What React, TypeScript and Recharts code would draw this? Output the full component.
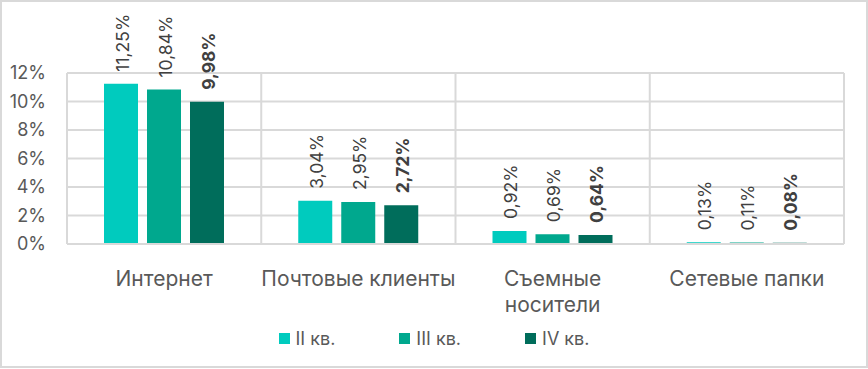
import React from "react";
import { BarChart, Bar, XAxis, YAxis, CartesianGrid, Legend, LabelList } from "recharts";

const categories = ["Интернет", "Почтовые клиенты", "Съемные\nносители", "Сетевые папки"];
const q2 = [11.25, 3.04, 0.92, 0.13];
const q3 = [10.84, 2.95, 0.69, 0.11];
const q4 = [9.98, 2.72, 0.64, 0.08];
const yTicks = [0, 2, 4, 6, 8, 10, 12];
const seriesNames = ["II кв.", "III кв.", "IV кв."];

const colors = ["#00CBBE", "#00A88E", "#006D5B"];
const FONT = "Inter, 'Noto Sans', sans-serif";

const data = categories.map((c, i) => ({ name: c, q2: q2[i], q3: q3[i], q4: q4[i] }));

const fmt = (v: number) => v.toFixed(2).replace(".", ",") + "%";

const makeLabel = (bold: boolean) => (props: any) => {
  const { x, y, width, value } = props;
  const cx = Number(x) + Number(width) / 2;
  const ty = Number(y) - 12;
  return (
    <text
      transform={`translate(${cx + 1},${ty}) rotate(-90)`}
      textAnchor="start"
      dominantBaseline="central"
      fontFamily={FONT}
      fontSize={17.5}
      fontWeight={bold ? 700 : 400}
      fill="#404040"
    >
      {fmt(Number(value))}
    </text>
  );
};

const XTick = (props: any) => {
  const { x, y, payload } = props;
  const lines = String(payload.value).split("\n");
  return (
    <text x={x} y={y} textAnchor="middle" fontFamily={FONT} fontSize={21} fill="#595959">
      {lines.map((l, i) => (
        <tspan key={i} x={x} dy={i === 0 ? 34 : 26}>
          {l}
        </tspan>
      ))}
    </text>
  );
};

const LegendContent = (props: any) => {
  const { payload } = props;
  return (
    <div style={{ display: "flex", justifyContent: "center", alignItems: "center", height: 36, paddingLeft: 24 }}>
      {(payload || []).map((p: any, i: number) => (
        <div
          key={i}
          style={{ display: "flex", alignItems: "center", margin: "0 32px", fontFamily: FONT, fontSize: 18, color: "#595959" }}
        >
          <span style={{ display: "inline-block", width: 11, height: 11, background: p.color, marginRight: 6 }} />
          <span>{p.value}</span>
        </div>
      ))}
    </div>
  );
};

export default function App() {
  return (
    <div style={{ position: "absolute", left: 0, top: 0, width: 868, height: 369, background: "#fff" }}>
      <div
        style={{
          position: "absolute",
          left: 0,
          top: 0,
          width: 868,
          height: 368,
          border: "2px solid #d9d9d9",
          boxSizing: "border-box",
        }}
      />
      <div style={{ position: "absolute", left: 0, top: 0 }}>
        <BarChart
          width={868}
          height={369}
          data={data}
          margin={{ top: 73, right: 24, bottom: 13, left: 0 }}
          barSize={34}
          barGap={9}
        >
          <CartesianGrid
            stroke="#d9d9d9"
            strokeWidth={2}
            verticalCoordinatesGenerator={({ offset }: any) =>
              categories.map((_, i) => offset.left + (i * offset.width) / categories.length).concat([offset.left + offset.width])
            }
          />
          <XAxis
            dataKey="name"
            height={76}
            axisLine={{ stroke: "#d9d9d9", strokeWidth: 2 }}
            tickLine={false}
            tick={<XTick />}
            interval={0}
          />
          <YAxis
            width={67}
            domain={[0, 12]}
            ticks={yTicks}
            tickFormatter={(v: number) => `${v}%`}
            axisLine={false}
            tickLine={false}
            tickMargin={15}
            tick={{ fontFamily: FONT, fontSize: 18, fill: "#595959" }}
          />
          <Legend verticalAlign="bottom" height={36} content={<LegendContent />} />
          <Bar dataKey="q2" name={seriesNames[0]} fill={colors[0]} isAnimationActive={false}>
            <LabelList dataKey="q2" content={makeLabel(false)} />
          </Bar>
          <Bar dataKey="q3" name={seriesNames[1]} fill={colors[1]} isAnimationActive={false}>
            <LabelList dataKey="q3" content={makeLabel(false)} />
          </Bar>
          <Bar dataKey="q4" name={seriesNames[2]} fill={colors[2]} isAnimationActive={false}>
            <LabelList dataKey="q4" content={makeLabel(true)} />
          </Bar>
        </BarChart>
      </div>
    </div>
  );
}
